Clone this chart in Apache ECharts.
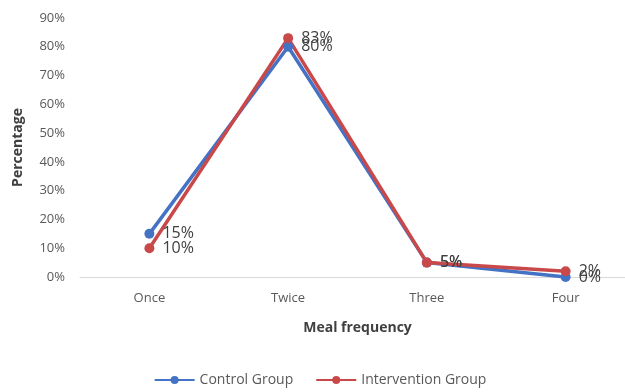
<!DOCTYPE html>
<html>
<head>
<meta charset="utf-8">
<script src="https://cdn.jsdelivr.net/npm/echarts@6/dist/echarts.min.js"></script>
<style>
  html, body { margin: 0; padding: 0; background: #fff; overflow: hidden; }
  #chart { width: 640px; height: 392px; }
</style>
</head>
<body>
<div id="chart"></div>
<script>
// Meal frequency categories and percentages per group
const categories = ['Once', 'Twice', 'Three', 'Four'];
const controlGroup = [15, 80, 5, 0];
const interventionGroup = [10, 83, 5, 2];
const yTicks = { min: 0, max: 90, interval: 10 };

const FONT = '"Open Sans", "Liberation Sans", sans-serif';

function lineSeries(name, data, color) {
  return {
    name: name,
    type: 'line',
    data: data,
    symbol: 'circle',
    symbolSize: 10,
    lineStyle: { width: 3.5, color: color },
    itemStyle: { color: color },
    label: {
      show: true,
      position: 'right',
      distance: 8,
      formatter: p => p.value + '%',
      color: '#404040',
      fontFamily: FONT,
      fontSize: 16
    }
  };
}

// The plot area runs slightly past the right edge of the visible page
const chart = echarts.init(document.getElementById('chart'));
chart.setOption({
  animation: false,
  textStyle: { fontFamily: FONT },
  grid: { left: 80, right: 5, top: 18, bottom: 115 },
  legend: {
    bottom: 0,
    left: 'center',
    itemWidth: 40,
    itemHeight: 10,
    itemGap: 22,
    textStyle: { color: '#595959', fontSize: 14, fontFamily: FONT },
    data: ['Control Group', 'Intervention Group']
  },
  xAxis: {
    type: 'category',
    data: categories,
    boundaryGap: true,
    name: 'Meal frequency',
    nameLocation: 'middle',
    nameGap: 44,
    nameTextStyle: { fontWeight: 'bold', fontSize: 14, color: '#404040', fontFamily: FONT },
    axisLine: { lineStyle: { color: '#d9d9d9', width: 1 } },
    axisTick: { show: false },
    axisLabel: { color: '#595959', fontSize: 13, margin: 15, fontFamily: FONT }
  },
  yAxis: {
    type: 'value',
    min: yTicks.min,
    max: yTicks.max,
    interval: yTicks.interval,
    name: 'Percentage',
    nameLocation: 'middle',
    nameGap: 55,
    nameRotate: 90,
    nameTextStyle: { fontWeight: 'bold', fontSize: 14, color: '#404040', fontFamily: FONT },
    axisLine: { show: false },
    axisTick: { show: false },
    splitLine: { show: false },
    axisLabel: { formatter: '{value}%', color: '#595959', fontSize: 13, margin: 15, fontFamily: FONT }
  },
  series: [
    lineSeries('Control Group', controlGroup, '#4472c4'),
    lineSeries('Intervention Group', interventionGroup, '#c9494a')
  ]
});
</script>
</body>
</html>
